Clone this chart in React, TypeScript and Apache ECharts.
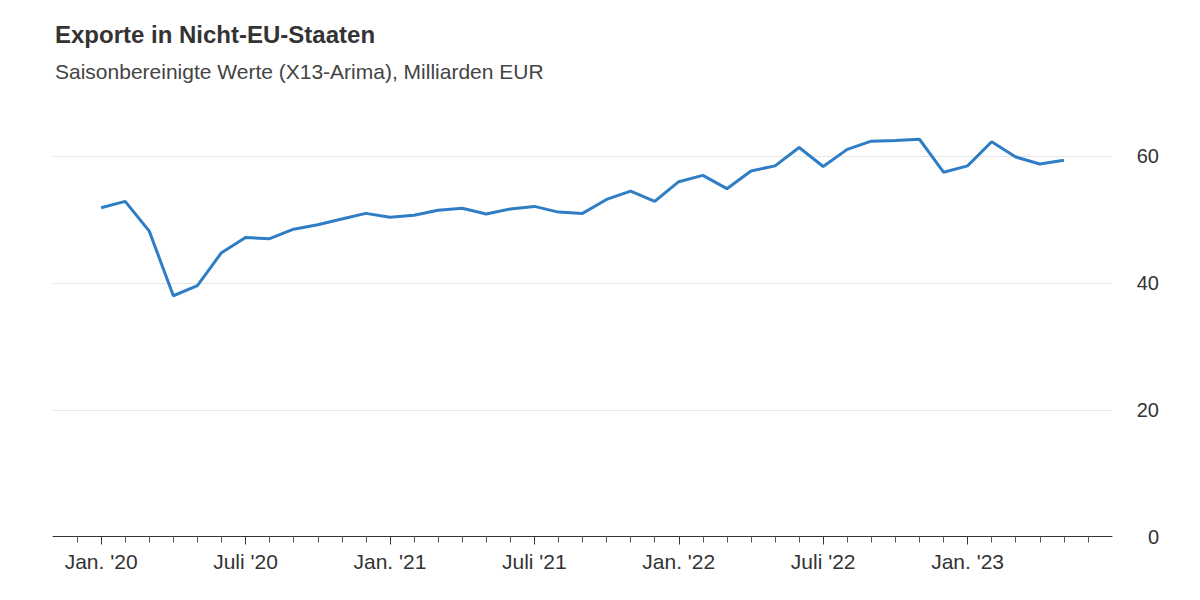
import React, { useEffect, useRef } from "react";
import * as echarts from "echarts";

const TITLE = "Exporte in Nicht-EU-Staaten";
const SUBTITLE = "Saisonbereinigte Werte (X13-Arima), Milliarden EUR";

// Axis months (Nov 2019 – Jul 2023)
const axisMonths = [
  "2019-11", "2019-12",
  "2020-01", "2020-02", "2020-03", "2020-04", "2020-05", "2020-06",
  "2020-07", "2020-08", "2020-09", "2020-10", "2020-11", "2020-12",
  "2021-01", "2021-02", "2021-03", "2021-04", "2021-05", "2021-06",
  "2021-07", "2021-08", "2021-09", "2021-10", "2021-11", "2021-12",
  "2022-01", "2022-02", "2022-03", "2022-04", "2022-05", "2022-06",
  "2022-07", "2022-08", "2022-09", "2022-10", "2022-11", "2022-12",
  "2023-01", "2023-02", "2023-03", "2023-04", "2023-05", "2023-06",
  "2023-07",
];

// Data months (Jan 2020 – May 2023)
const dataMonths = axisMonths.slice(2, 43);

// Exports to non-EU states, bn EUR
const exportsValues = [
  51.9, 52.9, 48.2, 38.0, 39.6, 44.8, 47.2, 47.0, 48.5, 49.2, 50.1, 51.0,
  50.4, 50.7, 51.5, 51.8, 50.9, 51.7, 52.1, 51.2, 51.0, 53.2, 54.5, 52.9,
  56.0, 57.0, 54.9, 57.7, 58.5, 61.4, 58.4, 61.1, 62.4, 62.5, 62.7, 57.5,
  58.5, 62.3, 59.9, 58.8, 59.4,
];

const yTicks = { min: 0, max: 70, interval: 20 };

const monthNames: Record<string, string> = { "01": "Jan.", "07": "Juli" };

const FONT = "'Liberation Sans', Arial, Helvetica, sans-serif";

export default function App() {
  const ref = useRef<HTMLDivElement>(null);

  useEffect(() => {
    document.body.style.margin = "0";
    if (!ref.current) return;
    const chart = echarts.init(ref.current, undefined, { renderer: "svg" });
    const last = axisMonths.length - 1;
    const isMajor = (i: number, v: string) => {
      const m = v.slice(5, 7);
      return i > 0 && i < last && (m === "01" || m === "07");
    };
    chart.setOption({
      animation: false,
      backgroundColor: "#ffffff",
      textStyle: { fontFamily: FONT },
      title: [
        {
          text: TITLE,
          left: 55,
          top: 22,
          padding: 0,
          textStyle: { fontFamily: FONT, fontSize: 24, fontWeight: "bold", color: "#333333" },
        },
        {
          text: SUBTITLE,
          left: 55,
          top: 61,
          padding: 0,
          textStyle: { fontFamily: FONT, fontSize: 21, fontWeight: "normal", color: "#444444" },
        },
      ],
      grid: { left: 53, right: 88, top: 93, bottom: 63.5, containLabel: false },
      xAxis: [
        {
          type: "category",
          data: axisMonths,
          boundaryGap: false,
          position: "bottom",
          axisLine: { show: true, lineStyle: { color: "#333333", width: 1 } },
          axisTick: {
            show: true,
            length: 6,
            lineStyle: { color: "#555555" },
            interval: (i: number) => i > 0 && i < last,
          },
          axisLabel: {
            show: true,
            interval: (i: number, v: string) => isMajor(i, v),
            formatter: (v: string) => `${monthNames[v.slice(5, 7)] ?? ""} '${v.slice(2, 4)}`,
            fontFamily: FONT,
            fontSize: 21,
            color: "#333333",
            margin: 14,
          },
          splitLine: { show: false },
        },
        {
          type: "category",
          data: axisMonths,
          boundaryGap: false,
          position: "bottom",
          offset: 0,
          axisLine: { show: false },
          axisTick: {
            show: true,
            length: 8,
            lineStyle: { color: "#333333" },
            interval: (i: number, v: string) => isMajor(i, v),
          },
          axisLabel: { show: false },
          splitLine: { show: false },
        },
      ],
      yAxis: {
        type: "value",
        position: "right",
        min: yTicks.min,
        max: yTicks.max,
        interval: yTicks.interval,
        axisLine: { show: false },
        axisTick: { show: false },
        axisLabel: {
          showMaxLabel: false,
          align: "right",
          margin: 47,
          fontFamily: FONT,
          fontSize: 20,
          color: "#333333",
        },
        splitLine: {
          show: true,
          showMaxLine: false,
          lineStyle: { color: "#e6e6e6", width: 1 },
        },
      },
      series: [
        {
          type: "line",
          xAxisIndex: 0,
          data: exportsValues.map((v, i) => [dataMonths[i], v]),
          showSymbol: false,
          symbol: "none",
          lineStyle: { color: "#2f7ec5", width: 3 },
          itemStyle: { color: "#2f7ec5" },
        },
      ],
    });
    return () => chart.dispose();
  }, []);

  return <div ref={ref} style={{ width: 1200, height: 600 }} />;
}
